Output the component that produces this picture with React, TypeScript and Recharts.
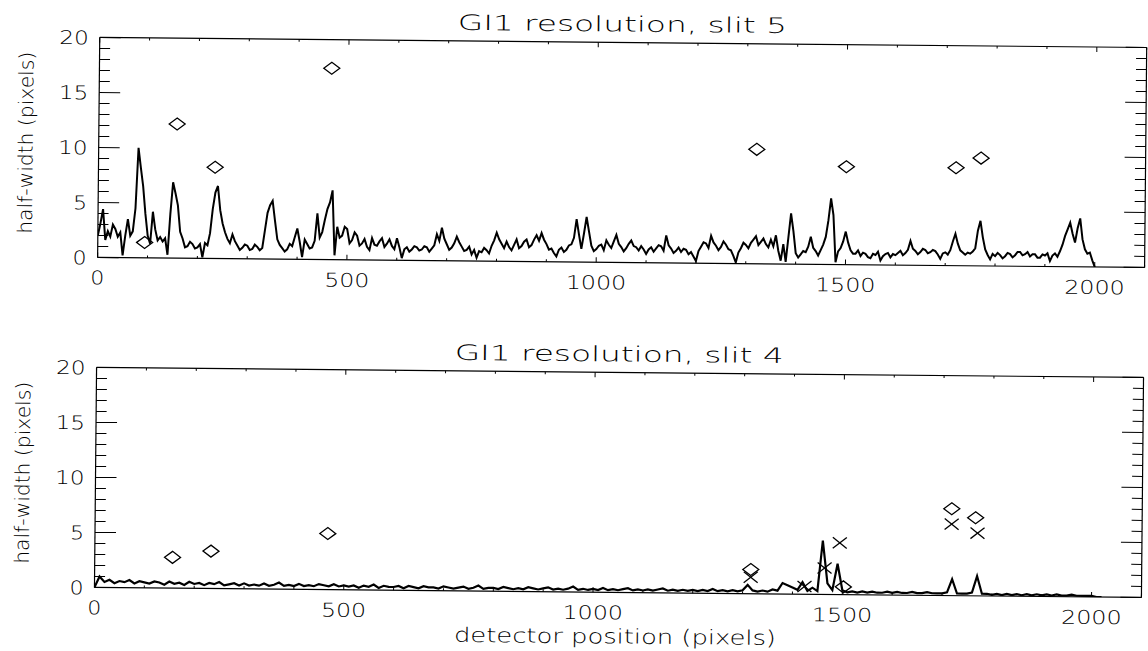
import React from 'react';
import { ComposedChart, Line, Scatter, XAxis, YAxis } from 'recharts';

// Slit 5: measured half-width (pixels), sampled every 5 detector pixels, x = 0..2000
const SLIT5_STEP = 5;
const slit5HalfWidth = [
  2.0, 3.1, 4.4, 1.6, 2.4, 1.9, 3.0, 2.6, 1.9, 2.3, 0.2, 2.0, 3.5, 2.0, 2.4, 4.5, 10.0, 8.2, 6.5, 4.0,
  2.0, 1.3, 4.2, 2.6, 1.6, 1.9, 1.5, 1.8, 0.3, 4.0, 6.9, 5.9, 4.8, 2.4, 1.8, 1.0, 1.1, 1.5, 1.3, 0.9,
  1.0, 1.3, 0.1, 1.4, 1.2, 2.3, 4.5, 6.0, 6.6, 4.4, 3.2, 2.4, 1.8, 1.4, 2.2, 1.6, 1.2, 0.8, 1.0, 1.3,
  1.2, 0.8, 0.9, 1.3, 1.1, 0.8, 1.0, 2.6, 4.2, 4.9, 5.3, 3.5, 1.8, 1.3, 1.0, 0.7, 0.9, 1.4, 1.2, 2.0,
  2.8, 1.6, 0.2, 1.8, 1.4, 1.0, 1.1, 1.7, 4.2, 2.0, 2.5, 3.6, 4.6, 5.2, 6.3, 0.4, 3.0, 2.0, 2.2, 3.0,
  2.8, 1.5, 1.8, 2.5, 2.2, 1.3, 1.5, 1.9, 1.2, 0.9, 2.0, 1.4, 1.3, 1.7, 2.0, 1.2, 1.5, 1.9, 1.3, 1.0,
  2.0, 1.2, 0.2, 1.0, 1.2, 0.8, 1.0, 1.3, 1.2, 0.9, 1.0, 1.3, 1.2, 0.8, 1.1, 1.4, 2.4, 1.8, 3.0, 2.0,
  1.5, 1.0, 1.2, 1.6, 2.2, 1.7, 1.3, 0.9, 1.0, 1.3, 0.6, 1.0, 0.3, 0.9, 0.8, 1.2, 1.0, 0.7, 1.4, 1.9,
  2.6, 2.0, 1.6, 1.2, 1.8, 1.3, 1.0, 1.5, 2.0, 1.2, 1.4, 1.8, 2.0, 1.3, 1.5, 2.0, 2.4, 1.9, 2.6, 2.0,
  1.6, 1.1, 1.2, 0.8, 0.5, 1.1, 1.3, 0.9, 1.1, 1.5, 1.6, 2.2, 3.9, 2.5, 1.2, 2.6, 4.1, 2.8, 1.5, 1.0,
  1.2, 1.5, 1.6, 1.1, 2.0, 1.6, 1.3, 1.9, 2.5, 1.7, 1.4, 1.0, 1.3, 1.7, 2.0, 1.5, 1.4, 1.1, 1.5, 1.2,
  0.8, 1.2, 1.4, 1.0, 1.3, 1.6, 1.5, 1.1, 2.5, 1.6, 1.3, 0.9, 1.1, 1.4, 1.0, 1.3, 1.2, 0.8, 1.0, 0.6,
  0.2, 1.1, 1.5, 1.9, 1.8, 1.4, 2.5, 1.9, 1.6, 1.2, 1.5, 2.0, 1.7, 1.3, 1.2, 0.7, 0.1, 1.0, 1.4, 1.9,
  1.7, 1.4, 1.9, 2.2, 2.5, 1.7, 2.0, 2.3, 1.8, 1.5, 2.2, 1.6, 2.6, 1.2, 0.3, 1.8, 0.2, 2.4, 4.6, 3.0,
  1.0, 0.6, 0.9, 1.2, 1.1, 1.6, 2.5, 1.5, 1.2, 0.8, 1.3, 1.8, 2.5, 4.0, 6.0, 4.5, 0.2, 1.2, 1.5, 2.1,
  3.0, 2.0, 1.3, 1.0, 1.0, 1.3, 0.8, 1.1, 1.0, 0.7, 0.6, 1.0, 0.9, 1.2, 0.4, 0.8, 1.0, 1.1, 0.7, 1.0,
  0.9, 1.1, 1.3, 0.9, 1.1, 1.4, 2.2, 1.5, 1.3, 1.0, 1.2, 1.5, 1.4, 1.1, 1.2, 1.4, 1.3, 1.0, 0.6, 1.1,
  1.2, 1.0, 1.4, 2.2, 2.9, 2.0, 1.4, 1.2, 1.0, 1.2, 1.1, 1.3, 1.6, 3.2, 4.1, 2.6, 1.5, 1.0, 0.6, 1.1,
  0.9, 1.2, 1.0, 0.7, 0.9, 1.2, 1.1, 0.8, 1.0, 1.3, 1.3, 1.0, 1.1, 1.3, 0.9, 1.1, 1.1, 0.8, 0.8, 1.1,
  1.0, 1.2, 0.5, 1.0, 1.2, 0.9, 1.4, 2.0, 2.8, 3.4, 4.0, 3.0, 2.2, 3.5, 4.4, 2.5, 1.6, 1.2, 1.3, 0.6,
  0.0,
];

// Slit 4: measured half-width (pixels), sampled every 10 detector pixels, x = 0..2020
const SLIT4_STEP = 10;
const slit4HalfWidth = [
  0.0, 1.0, 0.5, 0.7, 0.4, 0.6, 0.5, 0.7, 0.4, 0.6,
  0.5, 0.4, 0.6, 0.5, 0.3, 0.6, 0.4, 0.5, 0.3, 0.6,
  0.4, 0.5, 0.3, 0.5, 0.4, 0.6, 0.3, 0.4, 0.5, 0.3,
  0.5, 0.3, 0.4, 0.3, 0.5, 0.3, 0.4, 0.6, 0.3, 0.4,
  0.3, 0.5, 0.3, 0.4, 0.3, 0.5, 0.4, 0.3, 0.5, 0.3,
  0.4, 0.3, 0.4, 0.2, 0.4, 0.3, 0.5, 0.2, 0.4, 0.3,
  0.3, 0.4, 0.2, 0.4, 0.3, 0.2, 0.4, 0.3, 0.3, 0.2,
  0.4, 0.3, 0.2, 0.3, 0.4, 0.2, 0.3, 0.5, 0.2, 0.3,
  0.3, 0.2, 0.4, 0.3, 0.2, 0.3, 0.2, 0.4, 0.3, 0.2,
  0.3, 0.4, 0.2, 0.3, 0.2, 0.3, 0.5, 0.2, 0.3, 0.2,
  0.3, 0.2, 0.4, 0.2, 0.3, 0.2, 0.3, 0.4, 0.2, 0.3,
  0.2, 0.3, 0.2, 0.3, 0.4, 0.2, 0.3, 0.2, 0.3, 0.2,
  0.3, 0.2, 0.3, 0.2, 0.4, 0.2, 0.3, 0.2, 0.3, 0.2,
  0.3, 0.8, 0.3, 0.2, 0.3, 0.2, 0.4, 0.3, 1.0, 0.8,
  0.6, 0.4, 1.1, 0.3, 0.6, 0.3, 4.9, 1.0, 0.4, 2.8,
  0.4, 0.2, 0.3, 0.2, 0.3, 0.2, 0.3, 0.2, 0.2, 0.3,
  0.2, 0.3, 0.2, 0.2, 0.3, 0.2, 0.2, 0.3, 0.2, 0.2,
  0.2, 0.3, 1.5, 0.2, 0.2, 0.2, 0.3, 1.8, 0.2, 0.2,
  0.1, 0.2, 0.1, 0.2, 0.1, 0.2, 0.1, 0.2, 0.1, 0.2,
  0.1, 0.2, 0.1, 0.2, 0.1, 0.1, 0.2, 0.1, 0.1, 0.1,
  0.1, 0.0, 0.0,
];

// Fitted lines (diamonds) and second measurement (crosses)
const slit5Diamonds = [
  { x: 94, y: 1.4 }, { x: 157, y: 12.2 }, { x: 234, y: 8.3 }, { x: 466, y: 17.4 },
  { x: 1320, y: 10.4 }, { x: 1500, y: 8.9 }, { x: 1720, y: 8.9 }, { x: 1770, y: 9.8 },
];
const slit4Diamonds = [
  { x: 156, y: 2.8 }, { x: 233, y: 3.4 }, { x: 467, y: 5.1 }, { x: 1316, y: 2.2 },
  { x: 1502, y: 0.7 }, { x: 1718, y: 7.9 }, { x: 1766, y: 7.1 },
];
const slit4Crosses = [
  { x: 1316, y: 1.5 }, { x: 1424, y: 0.7 }, { x: 1464, y: 2.4 }, { x: 1494, y: 4.7 },
  { x: 1718, y: 6.5 }, { x: 1770, y: 5.7 },
];

const xTickValues = [0, 100, 200, 300, 400, 500, 600, 700, 800, 900, 1000, 1100, 1200, 1300, 1400, 1500, 1600, 1700, 1800, 1900, 2000, 2100];
const xTickLabels = [0, 500, 1000, 1500, 2000];
const yTickValues = [0, 1, 2, 3, 4, 5, 6, 7, 8, 9, 10, 11, 12, 13, 14, 15, 16, 17, 18, 19, 20];
const yTickLabels = [0, 5, 10, 15, 20];

const FONT = "'DejaVu Sans', sans-serif";
const FW = 200;
const W = 1148;
const PANEL_H = 326;

const labelWidth = (s: string) => s.length * 15.5 - 1.5;

const LeftTick = (props: any) => {
  const { x, y, payload } = props;
  const v = payload.value;
  const major = yTickLabels.includes(v);
  const s = String(v);
  const w = labelWidth(s);
  return (
    <g>
      <line x1={x} y1={y} x2={x + (major ? 21 : 10.5)} y2={y} stroke="#000" strokeWidth={1} />
      {major && (
        <text x={x - 11 - w} y={y + 7} fontSize={19} fontFamily={FONT} fontWeight={FW} fill="#000"
          textLength={w} lengthAdjust="spacingAndGlyphs">{s}</text>
      )}
    </g>
  );
};

const RightTick = (props: any) => {
  const { x, y, payload } = props;
  const major = yTickLabels.includes(payload.value);
  return <line x1={x} y1={y} x2={x - (major ? 21 : 10.5)} y2={y} stroke="#000" strokeWidth={1} />;
};

const BottomTick = (props: any) => {
  const { x, y, payload } = props;
  const v = payload.value;
  const major = xTickLabels.includes(v);
  const s = String(v);
  const w = labelWidth(s);
  return (
    <g>
      <line x1={x} y1={y} x2={x} y2={y - (major ? 5 : 2.5)} stroke="#000" strokeWidth={1} />
      {major && (
        <text x={x - w / 2} y={y + 27} fontSize={19} fontFamily={FONT} fontWeight={FW} fill="#000"
          textLength={w} lengthAdjust="spacingAndGlyphs">{s}</text>
      )}
    </g>
  );
};

const TopTick = (props: any) => {
  const { x, y, payload } = props;
  const major = xTickLabels.includes(payload.value);
  return <line x1={x} y1={y} x2={x} y2={y + (major ? 5 : 2.5)} stroke="#000" strokeWidth={1} />;
};

const DiamondShape = (props: any) => {
  const { cx, cy } = props;
  if (cx == null || cy == null) return null;
  const hw = 8, hh = 6;
  return (
    <polygon points={`${cx - hw},${cy} ${cx},${cy - hh} ${cx + hw},${cy} ${cx},${cy + hh}`}
      fill="none" stroke="#000" strokeWidth={1.3} />
  );
};

const CrossShape = (props: any) => {
  const { cx, cy } = props;
  if (cx == null || cy == null) return null;
  const hw = 7, hh = 5.5;
  return (
    <g stroke="#000" strokeWidth={1.3}>
      <line x1={cx - hw} y1={cy - hh} x2={cx + hw} y2={cy + hh} />
      <line x1={cx - hw} y1={cy + hh} x2={cx + hw} y2={cy - hh} />
    </g>
  );
};

type PanelProps = {
  top: number;
  title: string;
  trace: number[];
  step: number;
  lineWidth: number;
  diamonds: { x: number; y: number }[];
  crosses?: { x: number; y: number }[];
  showXLabel?: boolean;
};

function Panel({ top, title, trace, step, lineWidth, diamonds, crosses, showXLabel }: PanelProps) {
  const data = trace.map((y, i) => ({ x: i * step, y }));
  const axisLine = { stroke: '#000', strokeWidth: 1.2 };
  return (
    <div style={{ position: 'absolute', left: 0, top, width: W, height: PANEL_H }}>
      <ComposedChart width={W} height={PANEL_H} margin={{ top: 41, right: 3, bottom: PANEL_H - 263, left: 96 }}>
        <XAxis xAxisId="b" type="number" dataKey="x" domain={[0, 2100]} ticks={xTickValues} interval={0}
          height={1} tickSize={0} tickMargin={0} tickLine={false} axisLine={axisLine}
          tick={BottomTick} allowDataOverflow />
        <XAxis xAxisId="t" orientation="top" type="number" dataKey="x" domain={[0, 2100]} ticks={xTickValues} interval={0}
          height={1} tickSize={0} tickMargin={0} tickLine={false} axisLine={axisLine}
          tick={TopTick} allowDataOverflow />
        <YAxis yAxisId="l" type="number" dataKey="y" domain={[0, 20]} ticks={yTickValues} interval={0}
          width={1} tickSize={0} tickMargin={0} tickLine={false} axisLine={axisLine}
          tick={LeftTick} allowDataOverflow />
        <YAxis yAxisId="r" orientation="right" type="number" dataKey="y" domain={[0, 20]} ticks={yTickValues} interval={0}
          width={1} tickSize={0} tickMargin={0} tickLine={false} axisLine={axisLine}
          tick={RightTick} allowDataOverflow />
        <Line xAxisId="b" yAxisId="l" data={data} dataKey="y" type="linear" stroke="#000" strokeWidth={lineWidth}
          dot={false} isAnimationActive={false} />
        <Scatter xAxisId="t" yAxisId="r" data={diamonds} dataKey="y" shape={DiamondShape} isAnimationActive={false} />
        {crosses && (
          <Scatter xAxisId="t" yAxisId="r" data={crosses} dataKey="y" shape={CrossShape} isAnimationActive={false} />
        )}
      </ComposedChart>
      <svg width={W} height={PANEL_H} style={{ position: 'absolute', left: 0, top: 0, pointerEvents: 'none', overflow: 'visible' }}>
        <text x={455} y={31} fontSize={21} fontFamily={FONT} fontWeight={FW} fill="#000" textLength={329} lengthAdjust="spacingAndGlyphs">
          {title}
        </text>
        <text transform="translate(31,148) rotate(-90)" x={-91} y={0} fontSize={20} fontFamily={FONT} fontWeight={FW} fill="#000"
          textLength={182} lengthAdjust="spacingAndGlyphs">
          half-width (pixels)
        </text>
        {showXLabel && (
          <text x={457} y={313} fontSize={20} fontFamily={FONT} fontWeight={FW} fill="#000" textLength={322} lengthAdjust="spacingAndGlyphs">
            detector position (pixels)
          </text>
        )}
      </svg>
    </div>
  );
}

export default function App() {
  return (
    <div style={{ position: 'absolute', left: 0, top: 0, width: W, height: 651, background: '#fff', overflow: 'hidden' }}>
      <div style={{ position: 'absolute', left: 0, top: 0, width: W, height: 651, transform: 'rotate(0.55deg)', transformOrigin: '574px 325px' }}>
        <Panel top={0} title="GI1 resolution, slit 5" trace={slit5HalfWidth} step={SLIT5_STEP} lineWidth={2.0}
          diamonds={slit5Diamonds} />
        <Panel top={330} title="GI1 resolution, slit 4" trace={slit4HalfWidth} step={SLIT4_STEP} lineWidth={2.2}
          diamonds={slit4Diamonds} crosses={slit4Crosses} showXLabel />
      </div>
    </div>
  );
}
